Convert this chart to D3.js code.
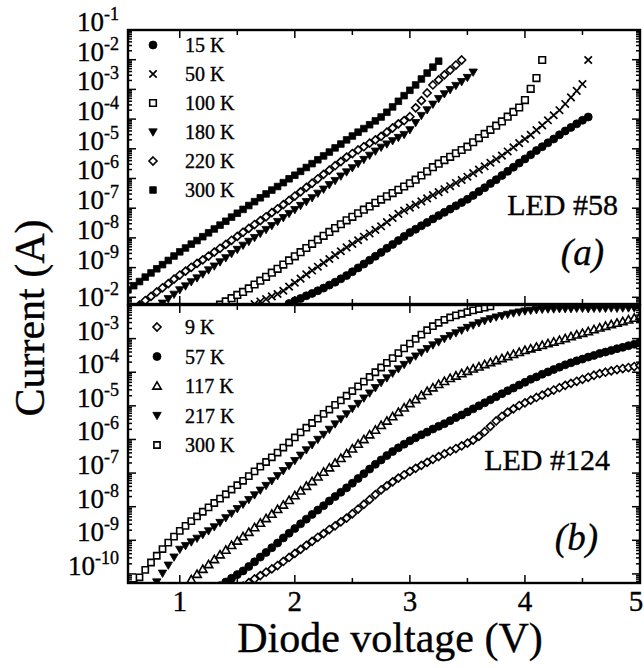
<!DOCTYPE html>
<html><head><meta charset="utf-8">
<script src="https://cdn.jsdelivr.net/npm/d3@7"></script>
<style>body{margin:0;background:#fff}svg{display:block}</style>
</head><body>
<svg id="chart" width="644" height="668"></svg>
<script>
// ---------- DATA ----------
const VSTEP = 0.05; // voltage sampling step (V)
const xTickValues = [1, 2, 3, 4, 5];
const topDecades = [-1, -2, -3, -4, -5, -6, -7, -8, -9];
const bottomDecades = [-2, -3, -4, -5, -6, -7, -8, -9, -10];

// LED #58 : log10(current / A), starting voltage per series
const led58Labels = ["15 K", "50 K", "100 K", "180 K", "220 K", "300 K"];
const led58Start = [1.95, 1.65, 1.35, 0.85, 0.65, 0.55];
const led58_15K = [-10.21,-10.12,-10.04,-9.95,-9.87,-9.78,-9.69,-9.59,-9.49,-9.38,-9.27,-9.14,-9.01,-8.88,-8.75,-8.62,-8.49,-8.35,-8.22,-8.09,-7.95,-7.82,-7.71,-7.59,-7.48,-7.36,-7.25,-7.14,-7.03,-6.92,-6.81,-6.70,-6.57,-6.44,-6.31,-6.17,-6.04,-5.90,-5.76,-5.62,-5.48,-5.34,-5.20,-5.06,-4.93,-4.80,-4.67,-4.53,-4.40,-4.28,-4.16,-4.04,-3.93];
const led58_50K = [-10.23,-10.14,-10.06,-9.97,-9.89,-9.78,-9.64,-9.51,-9.37,-9.23,-9.10,-8.97,-8.84,-8.71,-8.58,-8.45,-8.32,-8.20,-8.08,-7.96,-7.85,-7.73,-7.61,-7.47,-7.33,-7.19,-7.08,-6.98,-6.88,-6.77,-6.67,-6.56,-6.46,-6.36,-6.26,-6.15,-6.05,-5.94,-5.82,-5.70,-5.59,-5.47,-5.35,-5.23,-5.09,-4.95,-4.81,-4.67,-4.53,-4.37,-4.21,-4.04,-3.87,-3.70,-3.49,-3.27,-3.05,-2.82,-2.01];
const led58_100K = [-10.25,-10.14,-10.03,-9.92,-9.82,-9.70,-9.57,-9.44,-9.31,-9.17,-9.04,-8.90,-8.76,-8.62,-8.48,-8.34,-8.20,-8.06,-7.93,-7.80,-7.67,-7.54,-7.41,-7.29,-7.17,-7.05,-6.94,-6.82,-6.71,-6.60,-6.49,-6.38,-6.27,-6.16,-6.04,-5.90,-5.76,-5.62,-5.50,-5.38,-5.27,-5.15,-5.04,-4.93,-4.78,-4.64,-4.50,-4.36,-4.22,-4.08,-3.92,-3.76,-3.61,-3.36,-2.98,-2.62,-2.01];
const led58_180K = [-10.20,-10.05,-9.90,-9.75,-9.62,-9.48,-9.35,-9.22,-9.08,-8.95,-8.81,-8.67,-8.53,-8.39,-8.25,-8.12,-7.99,-7.85,-7.72,-7.59,-7.45,-7.32,-7.18,-7.05,-6.91,-6.78,-6.65,-6.50,-6.36,-6.21,-6.07,-5.92,-5.78,-5.64,-5.50,-5.36,-5.22,-5.08,-4.95,-4.84,-4.73,-4.62,-4.52,-4.36,-4.12,-3.88,-3.69,-3.50,-3.31,-3.15,-3.01,-2.87,-2.74,-2.60,-2.42];
const led58_220K = [-10.26,-10.11,-9.97,-9.82,-9.68,-9.54,-9.39,-9.25,-9.12,-8.99,-8.86,-8.74,-8.61,-8.48,-8.35,-8.22,-8.08,-7.95,-7.81,-7.68,-7.55,-7.42,-7.29,-7.15,-7.02,-6.88,-6.74,-6.59,-6.45,-6.30,-6.16,-6.01,-5.86,-5.72,-5.57,-5.43,-5.28,-5.16,-5.04,-4.93,-4.81,-4.70,-4.58,-4.44,-4.30,-4.16,-4.05,-3.92,-3.62,-3.38,-3.12,-2.85,-2.68,-2.51,-2.35,-2.18,-2.01];
const led58_300K = [-9.75,-9.61,-9.47,-9.32,-9.18,-9.04,-8.90,-8.76,-8.61,-8.47,-8.34,-8.21,-8.09,-7.96,-7.83,-7.70,-7.57,-7.44,-7.30,-7.17,-7.04,-6.91,-6.78,-6.65,-6.52,-6.39,-6.27,-6.14,-6.01,-5.89,-5.76,-5.63,-5.50,-5.37,-5.24,-5.11,-4.97,-4.84,-4.70,-4.57,-4.44,-4.32,-4.19,-4.06,-3.93,-3.77,-3.59,-3.40,-3.21,-3.03,-2.85,-2.65,-2.45,-2.25,-2.05];

// LED #124
const led124Labels = ["9 K", "57 K", "117 K", "217 K", "300 K"];
const led124Start = [1.55, 1.35, 1.10, 0.80, 0.60];
const led124_9K = [-10.36,-10.26,-10.15,-10.05,-9.95,-9.85,-9.75,-9.63,-9.51,-9.39,-9.27,-9.15,-9.03,-8.91,-8.80,-8.68,-8.57,-8.45,-8.34,-8.21,-8.07,-7.93,-7.79,-7.64,-7.50,-7.38,-7.26,-7.15,-7.05,-6.95,-6.86,-6.77,-6.68,-6.59,-6.51,-6.43,-6.35,-6.27,-6.19,-6.11,-6.02,-5.91,-5.77,-5.61,-5.45,-5.31,-5.19,-5.09,-4.99,-4.91,-4.83,-4.75,-4.68,-4.60,-4.53,-4.46,-4.39,-4.33,-4.27,-4.21,-4.15,-4.09,-4.04,-4.00,-3.96,-3.92,-3.89,-3.86,-3.83,-3.80];
const led124_57K = [-10.35,-10.24,-10.13,-10.02,-9.91,-9.78,-9.64,-9.50,-9.36,-9.22,-9.08,-8.93,-8.79,-8.65,-8.51,-8.37,-8.23,-8.10,-7.97,-7.83,-7.70,-7.57,-7.44,-7.30,-7.16,-7.02,-6.88,-6.74,-6.61,-6.48,-6.36,-6.25,-6.14,-6.04,-5.95,-5.86,-5.78,-5.69,-5.61,-5.53,-5.44,-5.35,-5.27,-5.18,-5.09,-5.00,-4.91,-4.82,-4.73,-4.64,-4.55,-4.47,-4.38,-4.30,-4.21,-4.14,-4.06,-3.99,-3.92,-3.85,-3.78,-3.72,-3.66,-3.61,-3.55,-3.50,-3.44,-3.40,-3.35,-3.30,-3.26,-3.21,-3.17,-3.12];
const led124_117K = [-10.17,-10.01,-9.86,-9.72,-9.57,-9.43,-9.29,-9.15,-9.02,-8.89,-8.76,-8.62,-8.49,-8.35,-8.22,-8.08,-7.95,-7.81,-7.67,-7.53,-7.39,-7.25,-7.11,-6.97,-6.84,-6.70,-6.56,-6.42,-6.28,-6.14,-6.00,-5.86,-5.72,-5.58,-5.45,-5.32,-5.19,-5.06,-4.93,-4.81,-4.69,-4.57,-4.46,-4.36,-4.27,-4.18,-4.11,-4.04,-3.97,-3.90,-3.84,-3.77,-3.71,-3.65,-3.59,-3.53,-3.47,-3.41,-3.35,-3.30,-3.25,-3.20,-3.15,-3.10,-3.05,-3.00,-2.94,-2.89,-2.84,-2.79,-2.73,-2.68,-2.63,-2.58,-2.54,-2.49,-2.44,-2.39,-2.34];
const led124_217K = [-10.24,-9.98,-9.74,-9.50,-9.27,-9.16,-9.05,-8.94,-8.83,-8.72,-8.60,-8.47,-8.33,-8.20,-8.06,-7.93,-7.79,-7.65,-7.51,-7.37,-7.23,-7.08,-6.93,-6.78,-6.63,-6.47,-6.31,-6.16,-6.00,-5.85,-5.70,-5.54,-5.39,-5.24,-5.08,-4.93,-4.77,-4.62,-4.46,-4.31,-4.17,-4.03,-3.90,-3.77,-3.64,-3.52,-3.41,-3.30,-3.19,-3.10,-3.00,-2.91,-2.83,-2.75,-2.67,-2.60,-2.53,-2.47,-2.41,-2.36,-2.32,-2.28,-2.24,-2.21,-2.18,-2.16,-2.14,-2.13,-2.12,-2.12,-2.11,-2.11,-2.11,-2.10,-2.10,-2.11,-2.10,-2.10,-2.10,-2.09,-2.10,-2.09,-2.09,-2.09,-2.09];
const led124_300K = [-10.33,-10.10,-9.88,-9.66,-9.46,-9.26,-9.07,-8.89,-8.72,-8.57,-8.43,-8.29,-8.15,-8.02,-7.89,-7.76,-7.63,-7.49,-7.36,-7.23,-7.09,-6.95,-6.81,-6.67,-6.53,-6.39,-6.24,-6.09,-5.94,-5.79,-5.65,-5.51,-5.38,-5.24,-5.11,-4.97,-4.84,-4.70,-4.56,-4.42,-4.28,-4.14,-4.00,-3.86,-3.72,-3.58,-3.43,-3.29,-3.15,-3.01,-2.88,-2.75,-2.63,-2.53,-2.44,-2.37,-2.31,-2.26,-2.21,-2.16,-2.12,-2.08,-2.04];

const led58Series = [led58_15K, led58_50K, led58_100K, led58_180K, led58_220K, led58_300K];
const led58Markers = ["circle", "cross", "square", "triDown", "diamond", "squareFilled"];
const led124Series = [led124_9K, led124_57K, led124_117K, led124_217K, led124_300K];
const led124Markers = ["diamond", "circle", "triUp", "triDown", "squareSmall"];

// ---------- LAYOUT ----------
const svg = d3.select("#chart");
const FONT = "'Liberation Serif','Times New Roman',serif";
const L = 128, R = 640;
const topPanel = {y0: 30, y1: 304, domain: [Math.pow(10, -10.226), 1e-1]};
const botPanel = {y0: 305, y1: 583, domain: [Math.pow(10, -10.27), 1e-2]};

const x = d3.scaleLinear().domain([0.55, 5.0]).range([L, R]);
const yTop = d3.scaleLog().domain(topPanel.domain).range([topPanel.y1, topPanel.y0]);
const yBot = d3.scaleLog().domain(botPanel.domain).range([botPanel.y1, botPanel.y0]);

function markerPath(type, s) {
  switch (type) {
    case "circle": { const r = 4.0*s; return `M${r},0A${r},${r} 0 1,1 ${-r},0A${r},${r} 0 1,1 ${r},0Z`; }
    case "square": case "squareFilled": { const h = 3.3*s; return `M${-h},${-h}H${h}V${h}H${-h}Z`; }
    case "squareSmall": { const h = 3.1*s; return `M${-h},${-h}H${h}V${h}H${-h}Z`; }
    case "diamond": { const h = 4.0*s; return `M0,${-h}L${h},0L0,${h}L${-h},0Z`; }
    case "triDown": { const a = 4.2*s; return `M${-a},${-a*0.75}L${a},${-a*0.75}L0,${a*1.0}Z`; }
    case "triUp": { const a = 4.2*s; return `M${-a},${a*0.75}L${a},${a*0.75}L0,${-a*1.0}Z`; }
    case "cross": { const h = 3.7*s; return `M${-h},${-h}L${h},${h}M${-h},${h}L${h},${-h}`; }
  }
}
function styleMarker(sel, type) {
  const filled = (type === "circle" || type === "triDown" || type === "squareFilled");
  if (type === "cross") sel.attr("fill", "none").attr("stroke", "#000").attr("stroke-width", 1.7);
  else if (filled) sel.attr("fill", "#000").attr("stroke", "#000").attr("stroke-width", 0.8);
  else sel.attr("fill", "#fff").attr("stroke", "#000").attr("stroke-width", 1.6);
}

const defs = svg.append("defs");
[["clipTop", topPanel], ["clipBot", botPanel]].forEach(([id, p]) => {
  defs.append("clipPath").attr("id", id).append("rect")
    .attr("x", L).attr("y", p.y0).attr("width", R - L).attr("height", p.y1 - p.y0);
});

function drawSeries(series, starts, markers, y, clipId) {
  const g = svg.append("g").attr("clip-path", `url(#${clipId})`);
  series.forEach((vals, k) => {
    const pts = vals.map((lg, i) => ({v: starts[k] + i * VSTEP, i: Math.pow(10, lg)}));
    g.append("g").selectAll("path").data(pts).join("path")
      .attr("transform", d => `translate(${x(d.v)},${y(d.i)})`)
      .attr("d", markerPath(markers[k], 1))
      .call(styleMarker, markers[k]);
  });
}
drawSeries(led58Series, led58Start, led58Markers, yTop, "clipTop");
drawSeries(led124Series, led124Start, led124Markers, yBot, "clipBot");

// ---------- AXES / FRAMES ----------
function drawFrame(p, y) {
  const g = svg.append("g").attr("stroke", "#000").attr("fill", "none");
  g.append("rect").attr("x", L).attr("y", p.y0).attr("width", R - L).attr("height", p.y1 - p.y0)
    .attr("stroke-width", 2.4);
  const [lo, hi] = p.domain.map(Math.log10);
  for (let e = Math.floor(lo); e <= Math.ceil(hi); e++) {
    for (let m = 1; m < 10; m++) {
      const val = m * Math.pow(10, e);
      const lv = Math.log10(val);
      if (lv < lo || lv > hi) continue;
      const yy = y(val), len = m === 1 ? 8 : 4;
      g.append("line").attr("x1", L).attr("x2", L + len).attr("y1", yy).attr("y2", yy).attr("stroke-width", 1.5);
      g.append("line").attr("x1", R).attr("x2", R - len).attr("y1", yy).attr("y2", yy).attr("stroke-width", 1.5);
    }
  }
  for (let v = 0.5; v <= 5.001; v += 0.5) {
    if (v < 0.55) continue;
    const xx = x(v), len = Math.abs(v - Math.round(v)) < 1e-6 ? 8 : 5;
    g.append("line").attr("x1", xx).attr("x2", xx).attr("y1", p.y0).attr("y2", p.y0 + len).attr("stroke-width", 1.5);
    g.append("line").attr("x1", xx).attr("x2", xx).attr("y1", p.y1).attr("y2", p.y1 - len).attr("stroke-width", 1.5);
  }
}
drawFrame(topPanel, yTop);
drawFrame(botPanel, yBot);

const textStroke = sel => sel.attr("fill", "#000").attr("stroke", "#000").attr("stroke-width", 0.35);

function decadeLabels(decades, y) {
  decades.forEach(e => {
    const t = svg.append("text").attr("x", 119).attr("y", y(Math.pow(10, e)) + 1)
      .attr("text-anchor", "end").attr("font-family", FONT).attr("font-size", 27).call(textStroke);
    t.append("tspan").text("10");
    t.append("tspan").attr("dy", -11).attr("font-size", 18).text("-" + (-e));
  });
}
decadeLabels(topDecades, yTop);
decadeLabels(bottomDecades, yBot);

svg.append("g").selectAll("text").data(xTickValues).join("text")
  .attr("x", d => Math.min(x(d), 636)).attr("y", 611).attr("text-anchor", "middle")
  .attr("font-family", FONT).attr("font-size", 29).call(textStroke).text(d => d);

svg.append("text").attr("x", 390).attr("y", 652).attr("text-anchor", "middle")
  .attr("font-family", FONT).attr("font-size", 42).call(textStroke).text("Diode voltage (V)");
svg.append("text").attr("transform", "translate(44,318) rotate(-90)").attr("text-anchor", "middle")
  .attr("font-family", FONT).attr("font-size", 42).call(textStroke).text("Current (A)");

// ---------- LEGENDS ----------
function legend(labels, markers, mx, tx, y0, dy) {
  labels.forEach((lab, k) => {
    const yy = y0 + k * dy;
    svg.append("path").attr("transform", `translate(${mx},${yy})`)
      .attr("d", markerPath(markers[k], 1.0)).call(styleMarker, markers[k]);
    svg.append("text").attr("x", tx).attr("y", yy + 7).attr("font-family", FONT)
      .attr("font-size", 20).call(textStroke).text(lab);
  });
}
legend(led58Labels, led58Markers, 153, 185, 45, 29);
legend(led124Labels, led124Markers, 157, 185, 327, 29.5);

// ---------- ANNOTATIONS ----------
svg.append("text").attr("x", 618).attr("y", 215).attr("text-anchor", "end")
  .attr("font-family", FONT).attr("font-size", 30).call(textStroke).text("LED #58");
svg.append("text").attr("x", 604).attr("y", 265).attr("text-anchor", "end")
  .attr("font-family", FONT).attr("font-style", "italic").attr("font-size", 37).call(textStroke).text("(a)");
svg.append("text").attr("x", 610).attr("y", 470).attr("text-anchor", "end")
  .attr("font-family", FONT).attr("font-size", 30).call(textStroke).text("LED #124");
svg.append("text").attr("x", 598).attr("y", 550).attr("text-anchor", "end")
  .attr("font-family", FONT).attr("font-style", "italic").attr("font-size", 37).call(textStroke).text("(b)");
</script>
</body></html>
